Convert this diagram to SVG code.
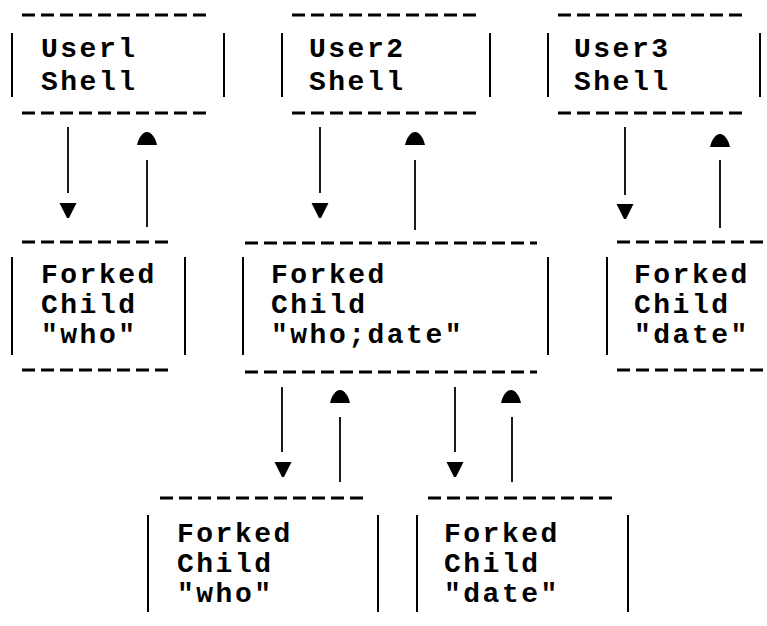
<svg xmlns="http://www.w3.org/2000/svg" width="767" height="626" viewBox="0 0 767 626">
  <style>
    .bg { fill: #ffffff; }
    .dash { stroke: #000; stroke-width: 3; stroke-dasharray: 13 6; fill: none; }
    .bar { stroke: #000; stroke-width: 2; fill: none; }
    .wire { stroke: #000; stroke-width: 1.8; fill: none; }
    .head { fill: #000; }
    text { font-family: "Liberation Mono", "Courier New", monospace; font-weight: bold; font-size: 28px; letter-spacing: 2.5px; fill: #000; }
  </style>
  <defs>
    <path id="down-head" d="M -8.5 0 L 8.5 0 L 1 15 L -1 15 Z"/>
    <path id="up-head" d="M -10 6 C -8.5 -1 -4.5 -7 0 -7 C 4.5 -7 8.5 -1 10 6 Z"/>
  </defs>
  <rect class="bg" x="0" y="0" width="767" height="626"/>

  <!-- shells -->
  <g id="user1-shell">
    <line class="dash" x1="22" y1="15" x2="210" y2="15"/>
    <line class="bar" x1="12" y1="33" x2="12" y2="97"/>
    <line class="bar" x1="224" y1="33" x2="224" y2="97"/>
    <line class="dash" x1="22" y1="113" x2="210" y2="113"/>
    <text x="41" y="57">Userl</text>
    <text x="41" y="90">Shell</text>
  </g>
  <g id="user2-shell">
    <line class="dash" x1="292" y1="15" x2="480" y2="15"/>
    <line class="bar" x1="282" y1="33" x2="282" y2="97"/>
    <line class="bar" x1="490" y1="33" x2="490" y2="97"/>
    <line class="dash" x1="292" y1="113" x2="480" y2="113"/>
    <text x="309" y="57">User2</text>
    <text x="309" y="90">Shell</text>
  </g>
  <g id="user3-shell">
    <line class="dash" x1="558" y1="15" x2="746" y2="15"/>
    <line class="bar" x1="548" y1="33" x2="548" y2="97"/>
    <line class="bar" x1="760" y1="33" x2="760" y2="97"/>
    <line class="dash" x1="558" y1="113" x2="746" y2="113"/>
    <text x="574" y="57">User3</text>
    <text x="574" y="90">Shell</text>
  </g>

  <!-- first-level children -->
  <g id="child-who">
    <line class="dash" x1="22" y1="242" x2="172" y2="242"/>
    <line class="bar" x1="12" y1="257" x2="12" y2="355"/>
    <line class="bar" x1="185" y1="257" x2="185" y2="355"/>
    <line class="dash" x1="22" y1="370" x2="172" y2="370"/>
    <text x="41" y="283">Forked</text>
    <text x="41" y="313">Child</text>
    <text x="41" y="343">"who"</text>
  </g>
  <g id="child-who-date">
    <line class="dash" x1="245" y1="243" x2="537" y2="243"/>
    <line class="bar" x1="243" y1="257" x2="243" y2="355"/>
    <line class="bar" x1="548" y1="257" x2="548" y2="355"/>
    <line class="dash" x1="245" y1="372" x2="537" y2="372"/>
    <text x="271" y="283">Forked</text>
    <text x="271" y="313">Child</text>
    <text x="271" y="343">"who;date"</text>
  </g>
  <g id="child-date">
    <line class="dash" x1="617" y1="242" x2="767" y2="242"/>
    <line class="bar" x1="607" y1="257" x2="607" y2="355"/>
    <line class="dash" x1="617" y1="370" x2="767" y2="370"/>
    <text x="634" y="283">Forked</text>
    <text x="634" y="313">Child</text>
    <text x="634" y="343">"date"</text>
  </g>

  <!-- second-level children -->
  <g id="grandchild-who">
    <line class="dash" x1="160" y1="498" x2="363" y2="498"/>
    <line class="bar" x1="148" y1="515" x2="148" y2="612"/>
    <line class="bar" x1="378" y1="515" x2="378" y2="612"/>
    <text x="177" y="542">Forked</text>
    <text x="177" y="572">Child</text>
    <text x="177" y="602">"who"</text>
  </g>
  <g id="grandchild-date">
    <line class="dash" x1="428" y1="498" x2="616" y2="498"/>
    <line class="bar" x1="417" y1="515" x2="417" y2="612"/>
    <line class="bar" x1="628" y1="515" x2="628" y2="612"/>
    <text x="444" y="542">Forked</text>
    <text x="444" y="572">Child</text>
    <text x="444" y="602">"date"</text>
  </g>

  <!-- fork / return connectors -->
  <g id="connectors">
    <line class="wire" x1="68" y1="127" x2="68" y2="193"/>
    <use href="#down-head" class="head" x="68" y="203"/>
    <line class="wire" x1="147" y1="160" x2="147" y2="227"/>
    <use href="#up-head" class="head" x="147" y="139"/>

    <line class="wire" x1="320" y1="127" x2="320" y2="193"/>
    <use href="#down-head" class="head" x="320" y="203"/>
    <line class="wire" x1="415" y1="160" x2="415" y2="230"/>
    <use href="#up-head" class="head" x="415" y="139"/>

    <line class="wire" x1="625" y1="127" x2="625" y2="195"/>
    <use href="#down-head" class="head" x="625" y="204"/>
    <line class="wire" x1="720" y1="160" x2="720" y2="228"/>
    <use href="#up-head" class="head" x="720" y="141"/>

    <line class="wire" x1="282" y1="387" x2="282" y2="452"/>
    <use href="#down-head" class="head" x="283" y="462"/>
    <line class="wire" x1="340" y1="417" x2="340" y2="482"/>
    <use href="#up-head" class="head" x="340" y="397"/>

    <line class="wire" x1="455" y1="387" x2="455" y2="452"/>
    <use href="#down-head" class="head" x="455" y="462"/>
    <line class="wire" x1="512" y1="417" x2="512" y2="482"/>
    <use href="#up-head" class="head" x="511" y="397"/>
  </g>
</svg>
